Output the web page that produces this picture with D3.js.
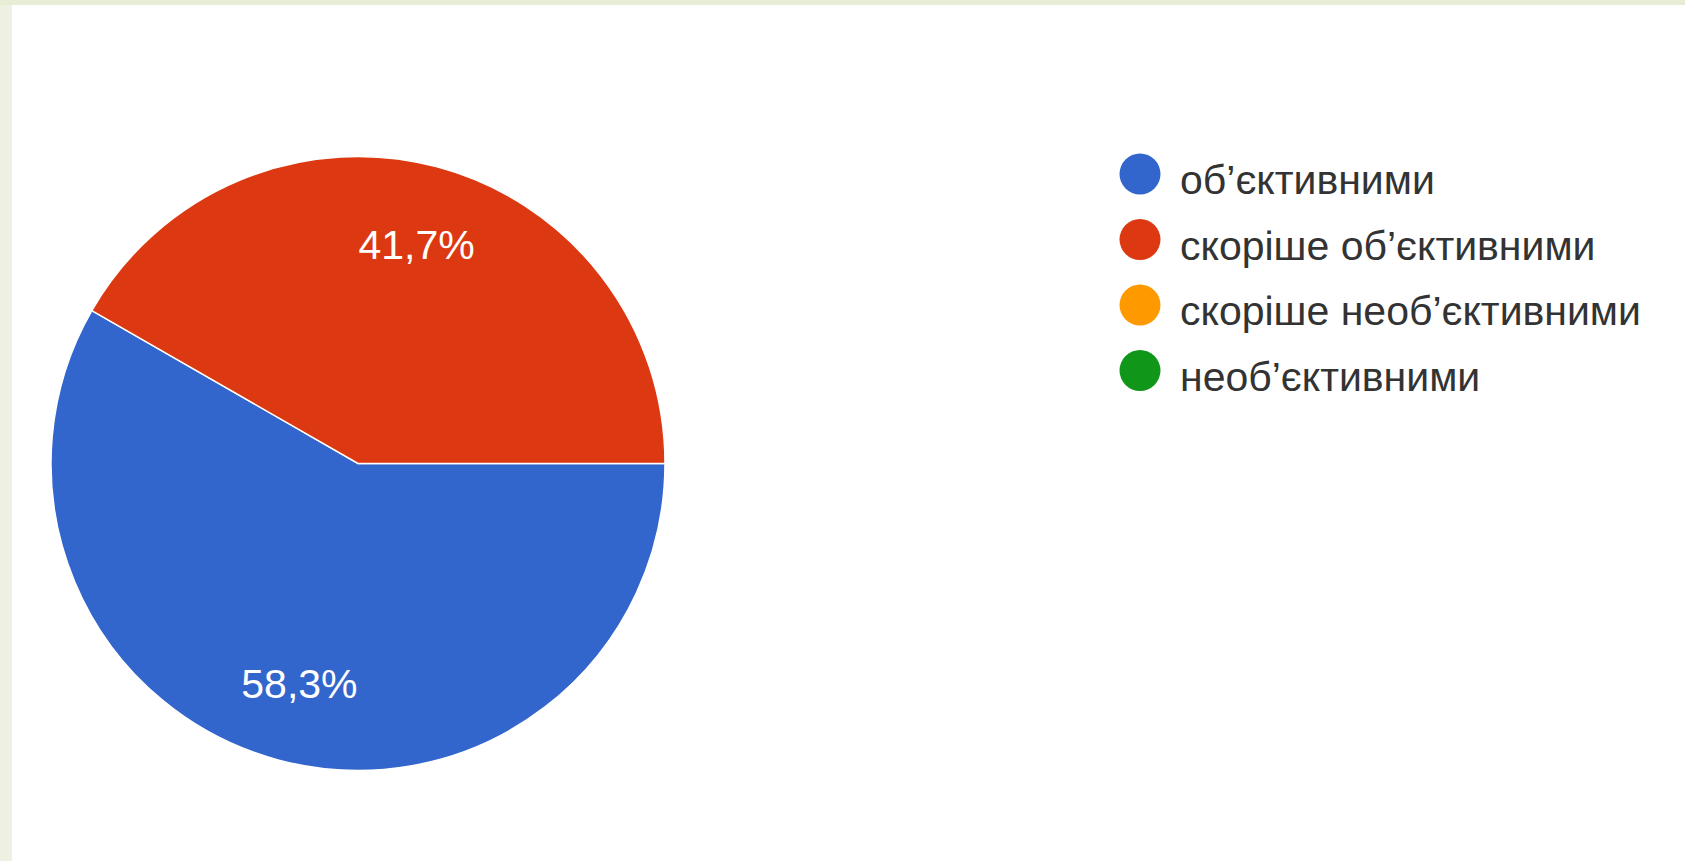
<!DOCTYPE html>
<html>
<head>
<meta charset="utf-8">
<script src="https://cdn.jsdelivr.net/npm/d3@7"></script>
<style>
  html, body { margin: 0; padding: 0; background: #eef0e3; }
  svg { display: block; }
</style>
</head>
<body>
<svg id="chart" width="1685" height="861"></svg>
<script>
const categories = ["об’єктивними", "скоріше об’єктивними", "скоріше необ’єктивними", "необ’єктивними"];
const values = [58.3, 41.7, 0, 0];
const labels = ["58,3%", "41,7%", "", ""];
const colors = ["#3366cc", "#dc3912", "#ff9900", "#109618"];

const W = 1685, H = 861;
const svg = d3.select("#chart");

// frame: beige strips on top and left, white panel
svg.append("rect").attr("x", 0).attr("y", 0).attr("width", W).attr("height", H).attr("fill", "#eef0e3");
svg.append("rect").attr("x", 0).attr("y", 0).attr("width", W).attr("height", 5).attr("fill", "#e8edd6");
svg.append("rect").attr("x", 12).attr("y", 5).attr("width", W - 12).attr("height", H - 5).attr("fill", "#ffffff");

const cx = 358, cy = 463.5, r = 307;
const data = categories.map((c, i) => ({ cat: c, value: values[i], label: labels[i], color: colors[i] }));

const pie = d3.pie().value(d => d.value).sort(null)
  .startAngle(Math.PI / 2).endAngle(Math.PI / 2 + 2 * Math.PI);
const arcs = pie(data);
const arc = d3.arc().innerRadius(0).outerRadius(r);
const labelArc = d3.arc().innerRadius(r * 0.74).outerRadius(r * 0.74);

const g = svg.append("g").attr("transform", `translate(${cx},${cy})`);
g.selectAll("path.slice").data(arcs.filter(d => d.data.value > 0)).join("path")
  .attr("class", "slice")
  .attr("d", arc)
  .attr("fill", d => d.data.color)
  .attr("stroke", "#ffffff")
  .attr("stroke-width", 1.5);

g.selectAll("text.lbl").data(arcs.filter(d => d.data.value > 0)).join("text")
  .attr("class", "lbl")
  .attr("transform", d => { const p = labelArc.centroid(d); return `translate(${p[0]},${p[1]})`; })
  .attr("text-anchor", "middle")
  .attr("dy", "0.36em")
  .attr("fill", "#ffffff")
  .style("font-family", "'Liberation Sans', Arial, sans-serif")
  .style("font-size", "41px")
  .text(d => d.data.label);

// legend
const legend = svg.append("g").attr("transform", "translate(1140,174)");
const rows = legend.selectAll("g").data(data).join("g")
  .attr("transform", (d, i) => `translate(0,${i * 65.5})`);
rows.append("circle").attr("r", 20.5).attr("fill", d => d.color);
rows.append("text")
  .attr("x", 40).attr("y", 20)
  .attr("fill", "#333333")
  .style("font-family", "'Liberation Sans', Arial, sans-serif")
  .style("font-size", "41px")
  .text(d => d.cat);
</script>
</body>
</html>
